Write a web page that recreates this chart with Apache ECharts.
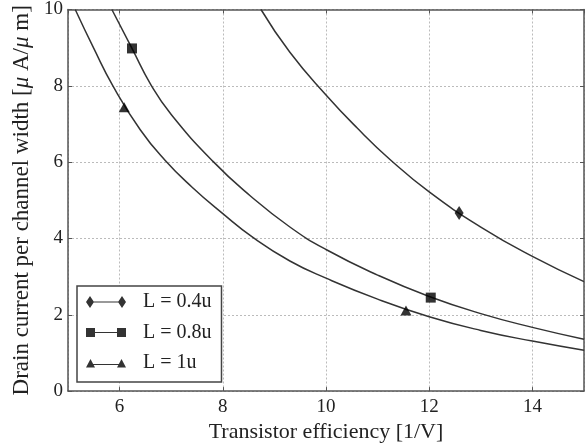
<!DOCTYPE html>
<html>
<head>
<meta charset="utf-8">
<script src="https://cdn.jsdelivr.net/npm/echarts@6/dist/echarts.min.js"></script>
<style>
html,body{margin:0;padding:0;background:#fff;}
#chart{width:587px;height:448px;}
</style>
</head>
<body>
<div id="chart"></div>
<script>
// ---- data ----
const seriesNames = ['L = 0.4u', 'L = 0.8u', 'L = 1u'];

// curve samples [efficiency, current]
const curveL04 = [[8.74,10.0],[9.30,8.88],[10.00,7.76],[10.60,6.90],[11.24,6.07],[12.00,5.22],[13.00,4.30],[14.00,3.53],[15.00,2.87]];
const curveL08 = [[5.85,10.0],[6.24,8.98],[6.61,8.02],[7.00,7.25],[7.81,6.02],[8.53,5.12],[9.30,4.30],[10.00,3.71],[11.00,3.04],[12.00,2.48],[13.00,2.03],[14.00,1.67],[15.00,1.36]];
const curveL1  = [[5.14,10.0],[5.50,8.98],[5.87,8.00],[6.40,6.85],[6.88,6.05],[7.40,5.35],[8.00,4.65],[8.59,4.02],[9.30,3.41],[10.00,2.96],[11.00,2.41],[12.00,1.95],[13.00,1.59],[14.00,1.31],[15.00,1.07]];

// marker points
const markersL04 = [[12.58,4.67]];
const markersL08 = [[6.24,8.98],[12.03,2.45]];
const markersL1  = [[6.09,7.44],[11.55,2.11]];

// axes
const xMin = 5, xMax = 15;
const yMin = 0, yMax = 10, yStep = 2;

// ---- chart ----
const FONT = '"Liberation Serif", "Times New Roman", serif';
const INK = '#222';
const AX = '#555';

const iconDiamond = 'path://M0 6L4 0L8 6L4 12Z M32 6L36 0L40 6L36 12Z M4 5.5L36 5.5L36 6.5L4 6.5Z M52 12';
const iconSquare  = 'path://M0 0 M0 1.5L9 1.5L9 10.5L0 10.5Z M31 1.5L40 1.5L40 10.5L31 10.5Z M9 5.5L31 5.5L31 6.5L9 6.5Z M52 12';
const iconTri     = 'path://M0 0 M0 10.5L4.5 2L9 10.5Z M31 10.5L35.5 2L40 10.5Z M4.5 7L35.5 7L35.5 8L4.5 8Z M52 12';

const chart = echarts.init(document.getElementById('chart'), null, {renderer: 'canvas'});

function lineSeries(name, data) {
  return {
    type: 'line', name: name, data: data, smooth: 0.5,
    symbol: 'none', silent: true,
    lineStyle: {color: '#333', width: 1.5},
    z: 2
  };
}
function markSeries(name, data, symbol, size) {
  return {
    type: 'scatter', name: name, data: data,
    symbol: symbol, symbolSize: size,
    itemStyle: {color: '#000'},
    z: 3
  };
}

const option = {
  animation: false,
  backgroundColor: '#fff',
  grid: {left: 68, right: 3, top: 9, bottom: 56, containLabel: false},
  xAxis: [{
    type: 'value', min: xMin, max: xMax, splitNumber: 5,
    name: 'Transistor efficiency [1/V]', nameLocation: 'middle', nameGap: 26,
    nameTextStyle: {fontFamily: FONT, fontSize: 22, color: INK},
    axisLine: {show: true, onZero: false, lineStyle: {color: AX, width: 1.5}},
    axisTick: {show: true, inside: true, length: 4, lineStyle: {color: AX}},
    axisLabel: {fontFamily: FONT, fontSize: 19, color: INK, margin: 6, showMinLabel: false, showMaxLabel: false},
    splitLine: {show: true, lineStyle: {type: [2, 2], color: '#bbb', width: 1}}
  }, {
    type: 'value', min: xMin, max: xMax, splitNumber: 5, position: 'top',
    axisLine: {show: true, onZero: false, lineStyle: {color: AX, width: 1.5}},
    axisTick: {show: true, inside: true, length: 4, lineStyle: {color: AX}},
    axisLabel: {show: false}, splitLine: {show: false}
  }],
  yAxis: [{
    type: 'value', min: yMin, max: yMax, interval: yStep,
    name: 'Drain current per channel width [{i|μ} A/{i|μ} m]', nameLocation: 'middle', nameGap: 32,
    nameTextStyle: {fontFamily: FONT, fontSize: 23, color: INK,
      rich: {i: {fontFamily: FONT, fontSize: 23, fontStyle: 'italic', color: INK}}},
    axisLine: {show: true, onZero: false, lineStyle: {color: AX, width: 1.5}},
    axisTick: {show: true, inside: true, length: 4, lineStyle: {color: AX}},
    axisLabel: {fontFamily: FONT, fontSize: 19, color: INK, margin: 5},
    splitLine: {show: true, lineStyle: {type: [2, 2], color: '#bbb', width: 1}}
  }, {
    type: 'value', min: yMin, max: yMax, interval: yStep, position: 'right',
    axisLine: {show: true, onZero: false, lineStyle: {color: AX, width: 1.5}},
    axisTick: {show: true, inside: true, length: 4, lineStyle: {color: AX}},
    axisLabel: {show: false}, splitLine: {show: false}
  }],
  legend: {
    orient: 'vertical', left: 77, top: 286,
    padding: [6, 10, 9, 9], itemGap: 10.5,
    itemWidth: 52, itemHeight: 12,
    backgroundColor: '#fff', borderColor: '#444', borderWidth: 1.5,
    textStyle: {fontFamily: FONT, fontSize: 20, color: INK},
    itemStyle: {color: '#000', borderWidth: 0},
    selectedMode: false,
    data: [
      {name: seriesNames[0], icon: iconDiamond},
      {name: seriesNames[1], icon: iconSquare},
      {name: seriesNames[2], icon: iconTri}
    ]
  },
  series: [
    markSeries(seriesNames[0], markersL04, 'diamond', [9, 14]),
    markSeries(seriesNames[1], markersL08, 'rect', 10),
    markSeries(seriesNames[2], markersL1, 'triangle', [11, 10]),
    lineSeries('curve04', curveL04),
    lineSeries('curve08', curveL08),
    lineSeries('curve1', curveL1)
  ]
};
chart.setOption(option);
</script>
</body>
</html>
